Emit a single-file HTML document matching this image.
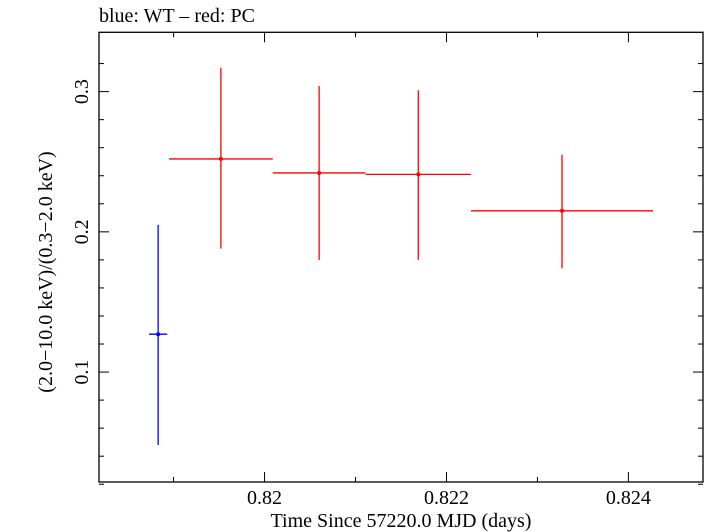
<!DOCTYPE html>
<html><head><meta charset="utf-8"><style>
body{margin:0;background:#fff}
svg{display:block;font-family:"Liberation Serif",serif}
</style></head><body>
<svg id="chart" width="705" height="532">
<text x="99" y="22" font-size="20">blue: WT – red: PC</text>
<rect x="99" y="32.3" width="604" height="449.7" fill="none" stroke="#000" stroke-width="1.3"/>
<g id="ticks"></g>
<g id="marks"></g>
<text x="401" y="527" font-size="20" text-anchor="middle">Time Since 57220.0 MJD (days)</text>
<text transform="translate(52,272) rotate(-90)" font-size="20" text-anchor="middle">(2.0−10.0 keV)/(0.3−2.0 keV)</text>
</svg>
<script>
const xTicks=[0.82,0.822,0.824];
const xTickLabels=["0.82","0.822","0.824"];
const yTicks=[0.1,0.2,0.3];
const yTickLabels=["0.1","0.2","0.3"];
const wtX=[0.81883];
const wtXerr=[0.0001];
const wtY=[0.127];
const wtYlo=[0.048];
const wtYhi=[0.205];
const pcX=[0.81952,0.8206,0.82169,0.82327];
const pcXlo=[0.81895,0.82009,0.82111,0.82227];
const pcXhi=[0.82009,0.82111,0.82227,0.82427];
const pcY=[0.252,0.242,0.241,0.215];
const pcYlo=[0.188,0.180,0.180,0.174];
const pcYhi=[0.317,0.304,0.301,0.255];

const L=99,R=703,T=32.3,B=482;
const x0=0.81818,x1=0.82482,y0=0.0216,y1=0.3423;
const sx=v=>L+(v-x0)/(x1-x0)*(R-L);
const sy=v=>B-(v-y0)/(y1-y0)*(B-T);
const NS="http://www.w3.org/2000/svg";
function mk(tag,parent,attrs){const e=document.createElementNS(NS,tag);for(const k in attrs)e.setAttribute(k,attrs[k]);parent.appendChild(e);return e;}
const tg=document.getElementById('ticks');
for(let v=0.819;v<=0.8245;v+=0.001){
  const px=sx(v);const major=Math.abs(Math.round(v*1000)%2)===0;const len=major?10:5;
  const a=mk('line',tg,{x1:px,x2:px,y1:B,y2:B-len,stroke:'#000'});
  
  
  const b=mk('line',tg,{x1:px,x2:px,y1:T,y2:T+len,stroke:'#000'});
  
  
}
for(let i=1;i<=16;i++){
  const v=i*0.02;const py=sy(v);const major=i%5===0;const len=major?10:5;
  const a=mk('line',tg,{x1:L,x2:L+len,y1:py,y2:py,stroke:'#000'});
  
  
  const b=mk('line',tg,{x1:R,x2:R-len,y1:py,y2:py,stroke:'#000'});
  
  
}
xTicks.forEach((v,i)=>{
  const t=mk('text',tg,{x:sx(v),y:504,'font-size':20,'text-anchor':'middle'});
  t.textContent=xTickLabels[i];
  
  
});
yTicks.forEach((v,i)=>{
  const t=mk('text',tg,{transform:`translate(88,${sy(v)}) rotate(-90)`,'font-size':20,'text-anchor':'middle'});
  t.textContent=yTickLabels[i];
  
  
});
const mg=document.getElementById('marks');
function point(g,x,xl,xh,y,yl,yh,c,name){
  const grp=mk('g',g,{});
  
  
  mk('line',grp,{x1:sx(xl),x2:sx(xh),y1:sy(y),y2:sy(y),stroke:c,'stroke-width':1.3});
  mk('line',grp,{x1:sx(x),x2:sx(x),y1:sy(yl),y2:sy(yh),stroke:c,'stroke-width':1.3});
  mk('circle',grp,{cx:sx(x),cy:sy(y),r:2,fill:c});
}
wtX.forEach((x,i)=>point(mg,x,x-wtXerr[i],x+wtXerr[i],wtY[i],wtYlo[i],wtYhi[i],'#0000ff','wt-point'));
pcX.forEach((x,i)=>point(mg,x,pcXlo[i],pcXhi[i],pcY[i],pcYlo[i],pcYhi[i],'#ff0000','pc-point'));
</script>
</body></html>
